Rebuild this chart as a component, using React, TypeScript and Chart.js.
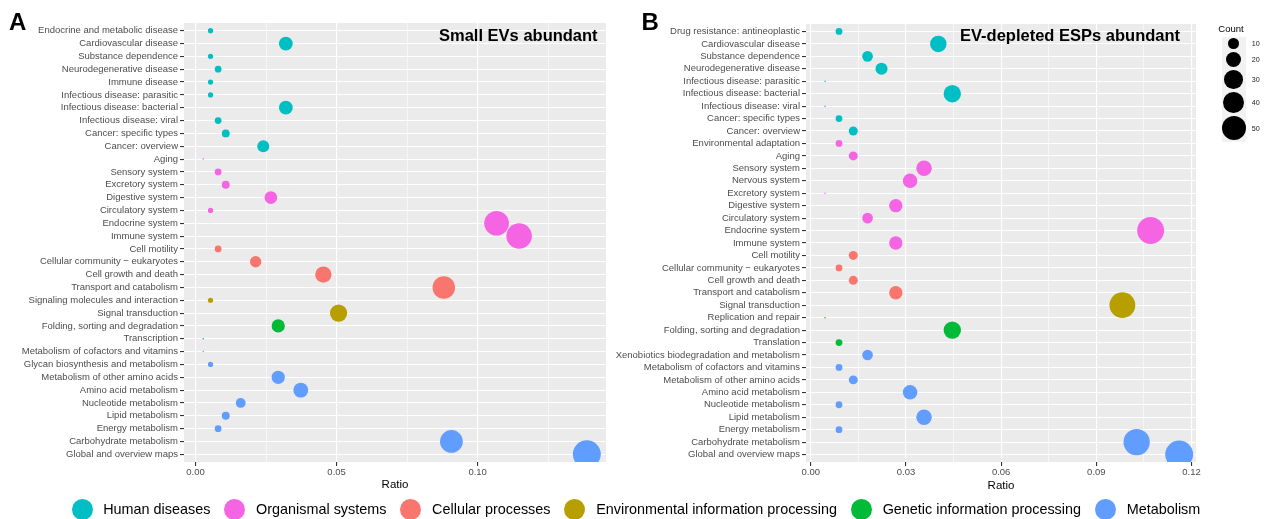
import React, { useEffect, useRef } from "react";
import { Chart, registerables } from "chart.js";

Chart.register(...registerables);

// ---------- shared categories ----------
const GROUPS = [
  "Human diseases",
  "Organismal systems",
  "Cellular processes",
  "Environmental information processing",
  "Genetic information processing",
  "Metabolism",
];
const GROUP_COLORS = ["#00BFC4", "#F564E3", "#F8766D", "#B79F00", "#00BA38", "#619CFF"];

// ---------- Panel A: Small EVs abundant ----------
const A_TITLE = "Small EVs abundant";
const A_LABELS = [
  "Endocrine and metabolic disease",
  "Cardiovascular disease",
  "Substance dependence",
  "Neurodegenerative disease",
  "Immune disease",
  "Infectious disease: parasitic",
  "Infectious disease: bacterial",
  "Infectious disease: viral",
  "Cancer: specific types",
  "Cancer: overview",
  "Aging",
  "Sensory system",
  "Excretory system",
  "Digestive system",
  "Circulatory system",
  "Endocrine system",
  "Immune system",
  "Cell motility",
  "Cellular community \u2212 eukaryotes",
  "Cell growth and death",
  "Transport and catabolism",
  "Signaling molecules and interaction",
  "Signal transduction",
  "Folding, sorting and degradation",
  "Transcription",
  "Metabolism of cofactors and vitamins",
  "Glycan biosynthesis and metabolism",
  "Metabolism of other amino acids",
  "Amino acid metabolism",
  "Nucleotide metabolism",
  "Lipid metabolism",
  "Energy metabolism",
  "Carbohydrate metabolism",
  "Global and overview maps",
];
const A_GROUP = [
  0, 0, 0, 0, 0, 0, 0, 0, 0, 0,
  1, 1, 1, 1, 1, 1, 1,
  2, 2, 2, 2,
  3, 3,
  4, 4,
  5, 5, 5, 5, 5, 5, 5, 5, 5,
];
const A_RATIO = [
  0.0053, 0.032, 0.0053, 0.008, 0.0053, 0.0053, 0.032, 0.008, 0.0107, 0.024,
  0.0027, 0.008, 0.0107, 0.0267, 0.0053, 0.1067, 0.1147,
  0.008, 0.0213, 0.0453, 0.088,
  0.0053, 0.0507,
  0.0293, 0.0027,
  0.0027, 0.0053, 0.0293, 0.0373, 0.016, 0.0107, 0.008, 0.0907, 0.1387,
];
const A_COUNT = [
  2, 12, 2, 3, 2, 2, 12, 3, 4, 9,
  1, 3, 4, 10, 2, 40, 43,
  3, 8, 17, 33,
  2, 19,
  11, 1,
  1, 2, 11, 14, 6, 4, 3, 34, 52,
];
const A_X_MIN = -0.0041;
const A_X_MAX = 0.1455;
const A_X_TICKS = [0, 0.025, 0.05, 0.075, 0.1, 0.125];
const A_X_TICK_LABELS = ["0.00", "", "0.05", "", "0.10", ""];

// ---------- Panel B: EV-depleted ESPs abundant ----------
const B_TITLE = "EV-depleted ESPs abundant";
const B_LABELS = [
  "Drug resistance: antineoplastic",
  "Cardiovascular disease",
  "Substance dependence",
  "Neurodegenerative disease",
  "Infectious disease: parasitic",
  "Infectious disease: bacterial",
  "Infectious disease: viral",
  "Cancer: specific types",
  "Cancer: overview",
  "Environmental adaptation",
  "Aging",
  "Sensory system",
  "Nervous system",
  "Excretory system",
  "Digestive system",
  "Circulatory system",
  "Endocrine system",
  "Immune system",
  "Cell motility",
  "Cellular community \u2212 eukaryotes",
  "Cell growth and death",
  "Transport and catabolism",
  "Signal transduction",
  "Replication and repair",
  "Folding, sorting and degradation",
  "Translation",
  "Xenobiotics biodegradation and metabolism",
  "Metabolism of cofactors and vitamins",
  "Metabolism of other amino acids",
  "Amino acid metabolism",
  "Nucleotide metabolism",
  "Lipid metabolism",
  "Energy metabolism",
  "Carbohydrate metabolism",
  "Global and overview maps",
];
const B_GROUP = [
  0, 0, 0, 0, 0, 0, 0, 0, 0,
  1, 1, 1, 1, 1, 1, 1, 1, 1,
  2, 2, 2, 2,
  3,
  4, 4, 4,
  5, 5, 5, 5, 5, 5, 5, 5, 5,
];
const B_RATIO = [
  0.0089, 0.0402, 0.0179, 0.0223, 0.0045, 0.0446, 0.0045, 0.0089, 0.0134,
  0.0089, 0.0134, 0.0357, 0.0313, 0.0045, 0.0268, 0.0179, 0.1071, 0.0268,
  0.0134, 0.0089, 0.0134, 0.0268,
  0.0982,
  0.0045, 0.0446, 0.0089,
  0.0179, 0.0089, 0.0134, 0.0313, 0.0089, 0.0357, 0.0089, 0.1027, 0.1161,
];
const B_COUNT = [
  2, 9, 4, 5, 1, 10, 1, 2, 3,
  2, 3, 8, 7, 1, 6, 4, 24, 6,
  3, 2, 3, 6,
  22,
  1, 10, 2,
  4, 2, 3, 7, 2, 8, 2, 23, 26,
];
const B_X_MIN = -0.0015;
const B_X_MAX = 0.1214;
const B_X_TICKS = [0, 0.015, 0.03, 0.045, 0.06, 0.075, 0.09, 0.105, 0.12];
const B_X_TICK_LABELS = ["0.00", "", "0.03", "", "0.06", "", "0.09", "", "0.12"];

// ---------- size legend ----------
const SIZE_LEGEND_TITLE = "Count";
const SIZE_LEGEND_VALUES = [10, 20, 30, 40, 50];

// ---------- styling ----------
const FONT = "'Liberation Sans', Arial, Helvetica, sans-serif";
const D_MIN = 1.5;
const D_MAX = 28;

function radiusFor(count: number, cmin: number, cmax: number) {
  const d = D_MIN + (D_MAX - D_MIN) * Math.sqrt((count - cmin) / (cmax - cmin));
  return d / 2;
}

const panelBg = {
  id: "panelBg",
  beforeDraw(chart: any) {
    const { ctx, chartArea } = chart;
    if (!chartArea) return;
    ctx.save();
    ctx.fillStyle = "#EBEBEB";
    ctx.fillRect(chartArea.left, chartArea.top, chartArea.right - chartArea.left, chartArea.bottom - chartArea.top);
    ctx.restore();
  },
};

type PanelSpec = {
  labels: string[];
  groups: number[];
  ratios: number[];
  counts: number[];
  xMin: number;
  xMax: number;
  xTicks: number[];
  xTickLabels: string[];
  yAxisWidth: number;
  padTop: number;
  padRight: number;
  titlePadBottom: number;
};

function makeConfig(p: PanelSpec): any {
  const cmin = Math.min(...p.counts);
  const cmax = Math.max(...p.counts);
  const datasets = GROUPS.map((g, gi) => ({
    label: g,
    data: p.labels
      .map((_, i) => i)
      .filter((i) => p.groups[i] === gi)
      .map((i) => ({ x: p.ratios[i], y: i, r: radiusFor(p.counts[i], cmin, cmax) })),
    backgroundColor: GROUP_COLORS[gi],
    borderWidth: 0,
    hoverRadius: 0,
  }));
  const n = p.labels.length;
  return {
    type: "bubble",
    data: { datasets },
    plugins: [panelBg],
    options: {
      responsive: false,
      animation: false,
      devicePixelRatio: 1,
      events: [],
      layout: { padding: { left: 0, right: p.padRight, top: p.padTop, bottom: 0 } },
      plugins: { legend: { display: false }, tooltip: { enabled: false } },
      scales: {
        x: {
          type: "linear",
          min: p.xMin,
          max: p.xMax,
          afterBuildTicks: (axis: any) => {
            axis.ticks = p.xTicks.map((v) => ({ value: v }));
          },
          afterFit: (axis: any) => {
            axis.height = 38;
          },
          ticks: {
            autoSkip: false,
            maxRotation: 0,
            padding: 0.5,
            color: "#4D4D4D",
            font: { family: FONT, size: 9.5 },
            callback: (_v: any, i: number) => p.xTickLabels[i],
          },
          grid: {
            color: "#FFFFFF",
            lineWidth: (ctx: any) => (ctx.index % 2 === 0 ? 1.1 : 0.55),
            tickColor: (ctx: any) => (ctx.index % 2 === 0 ? "#333333" : "rgba(0,0,0,0)"),
            tickWidth: 1.1,
            tickLength: 4,
          },
          border: { display: false },
          title: {
            display: true,
            text: "Ratio",
            color: "#000000",
            font: { family: FONT, size: 11.5 },
            padding: { top: 0, bottom: p.titlePadBottom },
          },
        },
        y: {
          type: "linear",
          reverse: true,
          min: -0.6,
          max: n - 1 + 0.6,
          afterBuildTicks: (axis: any) => {
            axis.ticks = p.labels.map((_, i) => ({ value: i }));
          },
          afterFit: (axis: any) => {
            axis.width = p.yAxisWidth;
          },
          ticks: {
            autoSkip: false,
            padding: 2,
            color: "#4D4D4D",
            font: { family: FONT, size: 9.5 },
            callback: (v: any) => p.labels[v],
          },
          grid: {
            color: "#FFFFFF",
            lineWidth: 1.1,
            tickColor: "#333333",
            tickWidth: 1.1,
            tickLength: 4,
          },
          border: { display: false },
        },
      },
    },
  };
}

export default function App() {
  const refA = useRef<HTMLCanvasElement | null>(null);
  const refB = useRef<HTMLCanvasElement | null>(null);

  useEffect(() => {
    const chA = new Chart(
      refA.current as HTMLCanvasElement,
      makeConfig({
        labels: A_LABELS,
        groups: A_GROUP,
        ratios: A_RATIO,
        counts: A_COUNT,
        xMin: A_X_MIN,
        xMax: A_X_MAX,
        xTicks: A_X_TICKS,
        xTickLabels: A_X_TICK_LABELS,
        yAxisWidth: 184,
        padTop: 23,
        padRight: 12,
        titlePadBottom: 8.5,
      })
    );
    const chB = new Chart(
      refB.current as HTMLCanvasElement,
      makeConfig({
        labels: B_LABELS,
        groups: B_GROUP,
        ratios: B_RATIO,
        counts: B_COUNT,
        xMin: B_X_MIN,
        xMax: B_X_MAX,
        xTicks: B_X_TICKS,
        xTickLabels: B_X_TICK_LABELS,
        yAxisWidth: 191,
        padTop: 24,
        padRight: 10,
        titlePadBottom: 7,
      })
    );
    return () => {
      chA.destroy();
      chB.destroy();
    };
  }, []);

  const panelLetter: React.CSSProperties = {
    position: "absolute",
    top: 9.7,
    fontFamily: FONT,
    fontWeight: 700,
    fontSize: 24,
    lineHeight: 1,
    color: "#000",
  };
  const insetTitle: React.CSSProperties = {
    position: "absolute",
    top: 26.7,
    fontFamily: FONT,
    fontWeight: 700,
    fontSize: 16.5,
    lineHeight: 1,
    color: "#000",
    whiteSpace: "nowrap",
  };

  return (
    <div
      style={{
        position: "absolute",
        left: 0,
        top: 0,
        width: 1269,
        height: 519,
        overflow: "hidden",
        background: "#FFFFFF",
      }}
    >
      <canvas
        ref={refA}
        width={620}
        height={500}
        style={{ position: "absolute", left: 0, top: 0, width: 620, height: 500, display: "block" }}
      />
      <canvas
        ref={refB}
        width={595}
        height={500}
        style={{ position: "absolute", left: 615, top: 0, width: 595, height: 500, display: "block" }}
      />

      <div style={{ ...panelLetter, left: 9 }}>A</div>
      <div style={{ ...panelLetter, left: 641.5 }}>B</div>
      <div style={{ ...insetTitle, left: 439 }}>{A_TITLE}</div>
      <div style={{ ...insetTitle, left: 960 }}>{B_TITLE}</div>

      {/* size legend */}
      <div
        style={{
          position: "absolute",
          left: 1218.3,
          top: 23.7,
          fontFamily: FONT,
          fontSize: 9.5,
          lineHeight: 1,
          color: "#000",
        }}
      >
        {SIZE_LEGEND_TITLE}
      </div>
      <div
        style={{
          position: "absolute",
          left: 1221.7,
          top: 36.7,
          display: "flex",
          flexDirection: "column",
        }}
      >
        {SIZE_LEGEND_VALUES.map((v) => {
          const d = 3.4 * Math.sqrt(v);
          return (
            <div key={v} style={{ display: "flex", alignItems: "center", height: d + 3 }}>
              <div
                style={{
                  width: 24,
                  height: d + 3,
                  background: "#F2F2F2",
                  display: "flex",
                  alignItems: "center",
                  justifyContent: "center",
                }}
              >
                <div style={{ width: d, height: d, borderRadius: "50%", background: "#000" }} />
              </div>
              <div
                style={{
                  marginLeft: 6,
                  fontFamily: FONT,
                  fontSize: 7.2,
                  color: "#1A1A1A",
                }}
              >
                {v}
              </div>
            </div>
          );
        })}
      </div>

      {/* colour legend */}
      <div
        style={{
          position: "absolute",
          left: 71.5,
          top: 499,
          height: 21,
          display: "flex",
          alignItems: "center",
          whiteSpace: "nowrap",
        }}
      >
        {GROUPS.map((g, i) => (
          <div key={g} style={{ display: "flex", alignItems: "center", marginRight: 14 }}>
            <div
              style={{
                width: 21,
                height: 21,
                borderRadius: "50%",
                background: GROUP_COLORS[i],
                marginRight: 10.7,
              }}
            />
            <span style={{ fontFamily: FONT, fontSize: 14.4, lineHeight: "21px", color: "#000" }}>{g}</span>
          </div>
        ))}
      </div>
    </div>
  );
}
